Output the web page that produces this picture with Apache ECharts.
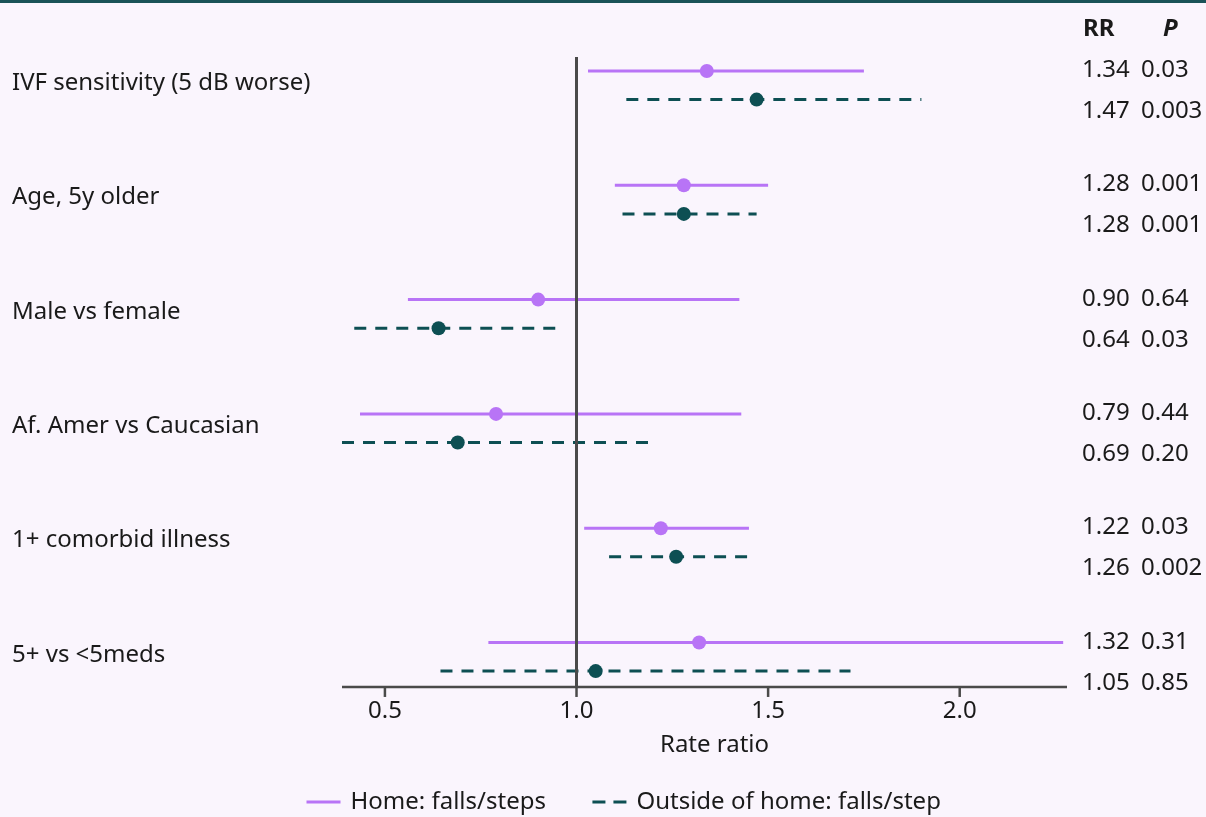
<!DOCTYPE html>
<html>
<head>
<meta charset="utf-8">
<script src="https://cdn.jsdelivr.net/npm/echarts@6/dist/echarts.min.js"></script>
<style>
html,body{margin:0;padding:0;background:#faf5fd;}
#chart{width:1206px;height:817px;}
</style>
</head>
<body>
<div id="chart"></div>
<script>
// ---- data ----
const groups = ['IVF sensitivity (5 dB worse)', 'Age, 5y older', 'Male vs female', 'Af. Amer vs Caucasian', '1+ comorbid illness', '5+ vs <5meds'];
const homeRR = [1.34, 1.28, 0.90, 0.79, 1.22, 1.32];
const homeLo = [1.03, 1.10, 0.56, 0.435, 1.02, 0.77];
const homeHi = [1.75, 1.50, 1.425, 1.43, 1.45, 2.27];
const homeP  = ['0.03', '0.001', '0.64', '0.44', '0.03', '0.31'];
const outRR  = [1.47, 1.28, 0.64, 0.69, 1.26, 1.05];
const outLo  = [1.13, 1.12, 0.42, 0.388, 1.085, 0.645];
const outHi  = [1.90, 1.47, 0.96, 1.21, 1.46, 1.715];
const outP   = ['0.003', '0.001', '0.03', '0.20', '0.002', '0.85'];
const xTicks = [0.5, 1.0, 1.5, 2.0];
const seriesNames = ['Home: falls/steps', 'Outside of home: falls/step'];
const headers = ['RR', 'P'];

// ---- styling ----
const PURPLE = '#b874f6';
const TEAL = '#0d4f53';
const AXIS = '#4a4a4a';
const TXT = '#1a1a1a';
const FONT = 'Noto Sans';
const OFF = 0.25;            // row offset of outside-home line
const X_MIN = 0.388, X_MAX = 2.28;
const Y_MIN = -0.1225, Y_AX = 5.389, Y_MAX = 5.4768; // Y_AX = where the x-axis line sits

function ciData(lo, hi, off) {
  const d = [];
  lo.forEach((l, i) => { d.push([l, i + off]); d.push([hi[i], i + off]); d.push(['-', '-']); });
  return d;
}

const chart = echarts.init(document.getElementById('chart'), null, {renderer: 'canvas'});
const option = {
  backgroundColor: '#faf5fd',
  textStyle: {fontFamily: FONT},
  animation: false,
  grid: {left: 342, right: 139, top: 57, bottom: 120},
  xAxis: {
    type: 'value', min: X_MIN, max: X_MAX, position: 'bottom',
    name: 'Rate ratio', nameLocation: 'middle', nameGap: 36,
    nameTextStyle: {fontSize: 24, color: TXT, fontFamily: FONT, padding: [0, 0, 0, 20]},
    axisLine: {show: false, onZero: false},
    axisTick: {show: false},
    axisLabel: {customValues: xTicks, formatter: v => Number(v).toFixed(1), fontSize: 24, color: TXT, margin: 2, fontFamily: FONT},
    splitLine: {show: false}
  },
  yAxis: {
    type: 'value', inverse: true, min: Y_MIN, max: Y_MAX,
    axisLine: {show: false}, axisTick: {show: false}, axisLabel: {show: false}, splitLine: {show: false}
  },
  legend: {
    data: [
      {name: seriesNames[0], itemStyle: {color: 'rgba(0,0,0,0)', borderWidth: 0, opacity: 0}, lineStyle: {color: PURPLE, width: 3, type: 'solid'}},
      {name: seriesNames[1], itemStyle: {color: 'rgba(0,0,0,0)', borderWidth: 0, opacity: 0}, lineStyle: {color: TEAL, width: 3, type: [13, 8]}}
    ],
    left: 305, top: 790, padding: 0, itemGap: 45, itemWidth: 34, itemHeight: 14,
    textStyle: {fontSize: 24, color: TXT, fontFamily: FONT, padding: [0, 0, 0, 5]}
  },
  graphic: [
    {type: 'rect', left: 0, top: 0, shape: {width: 1206, height: 3}, style: {fill: '#1a5358'}},
    {type: 'text', left: 1083, top: 17, style: {text: headers[0], font: 'bold 24px "Noto Sans"', fill: TXT}},
    {type: 'text', left: 1163, top: 17, style: {text: headers[1], font: 'italic bold 24px "Noto Sans"', fill: TXT}}
  ],
  series: [
    {
      name: seriesNames[0], type: 'line', data: ciData(homeLo, homeHi, 0), symbol: 'none',
      connectNulls: false, lineStyle: {color: PURPLE, width: 3}, itemStyle: {color: PURPLE}, z: 2
    },
    {
      name: seriesNames[1], type: 'line', data: ciData(outLo, outHi, OFF), symbol: 'none',
      connectNulls: false, lineStyle: {color: TEAL, width: 3, type: [12, 9]}, itemStyle: {color: TEAL}, z: 2
    },
    {
      name: 'homePts', type: 'scatter', data: homeRR.map((v, i) => [v, i]), symbolSize: 14,
      itemStyle: {color: PURPLE, opacity: 1}, z: 3
    },
    {
      name: 'outPts', type: 'scatter', data: outRR.map((v, i) => [v, i + OFF]), symbolSize: 14,
      itemStyle: {color: TEAL, opacity: 1}, z: 3,
      markLine: {
        silent: true, symbol: 'none', label: {show: false},
        lineStyle: {color: AXIS, width: 3, type: 'solid'},
        data: [[{coord: [1, Y_MIN]}, {coord: [1, Y_AX]}]], z: 10
      }
    },
    {
      // x-axis line and ticks, drawn through the axis scales
      name: 'xaxis', type: 'custom', silent: true, z: 8,
      data: xTicks.map(v => [v, Y_AX]),
      renderItem: function (params, api) {
        const p = api.coord([api.value(0), api.value(1)]);
        const children = [
          {type: 'rect', shape: {x: p[0] - 1.25, y: p[1], width: 2.5, height: 10}, style: {fill: AXIS}}
        ];
        if (params.dataIndex === 0) {
          const a = api.coord([X_MIN, Y_AX]);
          const b = api.coord([X_MAX, Y_AX]);
          children.push({type: 'rect', shape: {x: a[0], y: a[1] - 1.25, width: b[0] - a[0], height: 2.5}, style: {fill: AXIS}});
        }
        return {type: 'group', children: children};
      }
    },
    {
      name: 'texts', type: 'custom', silent: true, z: 5, clip: false,
      data: groups.map((g, i) => [i]),
      renderItem: function (params, api) {
        const i = api.value(0);
        const ymid = api.coord([X_MIN, i + OFF / 2])[1];
        const cs = params.coordSys;
        const xr = cs.x + cs.width + 15;
        const base = {fill: TXT, font: '24px "Noto Sans"', textVerticalAlign: 'middle', verticalAlign: 'middle'};
        return {
          type: 'group',
          children: [
            {type: 'text', style: Object.assign({}, base, {x: 12, y: ymid - 2, text: groups[i]})},
            {type: 'text', style: Object.assign({}, base, {x: xr, y: ymid - 15, text: homeRR[i].toFixed(2)})},
            {type: 'text', style: Object.assign({}, base, {x: xr + 59, y: ymid - 15, text: homeP[i]})},
            {type: 'text', style: Object.assign({}, base, {x: xr, y: ymid + 26, text: outRR[i].toFixed(2)})},
            {type: 'text', style: Object.assign({}, base, {x: xr + 59, y: ymid + 26, text: outP[i]})}
          ]
        };
      }
    }
  ]
};
chart.setOption(option);
</script>
</body>
</html>
